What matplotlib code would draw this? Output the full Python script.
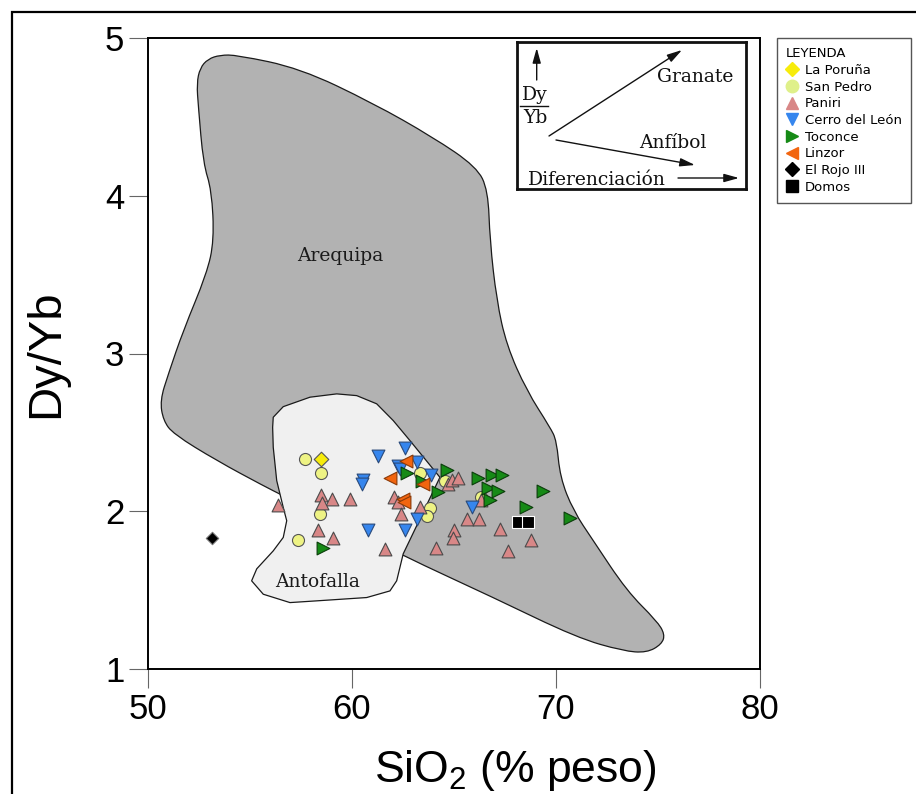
import matplotlib
matplotlib.use('Agg')
import matplotlib.pyplot as plt
from matplotlib.patches import Polygon, Rectangle, PathPatch
from matplotlib.path import Path
from matplotlib.lines import Line2D

plt.rcParams['font.family'] = ['Liberation Sans', 'DejaVu Sans']
plt.rcParams['mathtext.fontset'] = 'custom'
plt.rcParams['mathtext.rm'] = 'Liberation Sans'
plt.rcParams['mathtext.it'] = 'Liberation Sans:italic'

# ---------------- data ----------------
areq_x = [52.39, 52.55, 52.94, 53.53, 54.35, 57.45, 61.03, 63.97, 66.11, 66.67,
          66.76, 67.09, 67.58, 68.56, 69.71, 70.03, 70.20, 70.85, 71.83, 73.47,
          74.94, 75.34, 75.18, 74.45, 73.30, 71.01, 66.93, 62.51, 56.63, 55.65,
          53.37, 51.24, 50.75, 50.59, 51.00, 51.73, 52.88, 53.24, 53.12, 52.71, 52.47]
areq_y = [4.712, 4.810, 4.867, 4.892, 4.892, 4.808, 4.587, 4.371, 4.183, 4.035,
          3.717, 3.337, 3.051, 2.765, 2.532, 2.448, 2.215, 2.003, 1.813, 1.495,
          1.305, 1.220, 1.157, 1.103, 1.114, 1.199, 1.453, 1.717, 2.098, 2.162,
          2.321, 2.490, 2.575, 2.702, 2.871, 3.146, 3.506, 3.717, 4.035, 4.204, 4.564]

anto_x = [56.11, 56.14, 56.63, 57.94, 59.25, 60.23, 61.21, 62.02, 62.84, 64.31,
          62.51, 62.19, 61.86, 60.72, 58.27, 56.96, 55.65, 55.08, 55.33, 56.14,
          56.63, 56.80, 56.63, 56.31, 56.14]
anto_y = [2.532, 2.596, 2.663, 2.723, 2.744, 2.733, 2.681, 2.575, 2.448, 2.215,
          1.730, 1.559, 1.495, 1.453, 1.432, 1.421, 1.474, 1.559, 1.635, 1.749,
          1.834, 1.940, 2.024, 2.194, 2.405]

poruna_x = [58.48]
poruna_y = [2.33]

sanpedro_x = [57.70, 58.48, 58.43, 57.37, 63.33, 63.82, 63.69, 64.56, 66.31]
sanpedro_y = [2.33, 2.24, 1.98, 1.82, 2.24, 2.02, 1.97, 2.19, 2.09]

paniri_x = [56.39, 58.47, 59.00, 58.51, 59.90, 58.35, 59.08, 61.62, 62.06, 62.27,
            62.40, 63.33, 64.72, 64.89, 65.18, 66.31, 65.62, 66.24, 65.00, 64.93,
            64.10, 67.25, 68.76, 67.66]
paniri_y = [2.04, 2.10, 2.08, 2.05, 2.08, 1.88, 1.83, 1.76, 2.09, 2.06,
            1.98, 2.03, 2.17, 2.20, 2.21, 2.07, 1.95, 1.95, 1.88, 1.83,
            1.77, 1.89, 1.82, 1.75]

leon_x = [61.29, 62.60, 60.52, 60.47, 62.27, 62.35, 63.17, 63.87, 60.77, 62.60, 63.17, 65.86]
leon_y = [2.35, 2.40, 2.20, 2.17, 2.29, 2.27, 2.31, 2.23, 1.88, 1.88, 1.95, 2.03]

toconce_x = [58.59, 62.68, 63.42, 64.64, 64.23, 66.19, 66.84, 67.33, 66.68, 67.17,
             66.76, 69.38, 68.53, 70.69]
toconce_y = [1.77, 2.24, 2.19, 2.26, 2.12, 2.21, 2.23, 2.23, 2.15, 2.13,
             2.07, 2.13, 2.03, 1.96]

linzor_x = [61.86, 62.65, 63.47, 62.52, 62.55]
linzor_y = [2.21, 2.32, 2.17, 2.08, 2.06]

rojo_x = [53.12]
rojo_y = [1.83]

domos_x = [68.15, 68.64]
domos_y = [1.935, 1.93]

x_ticks = [50, 60, 70, 80]
y_ticks = [1, 2, 3, 4, 5]


def smooth_closed_path(xs, ys):
    """Closed outline drawn with quadratic Bezier segments (vertices act as control points)."""
    pts = list(zip(xs, ys))
    n = len(pts)
    mids = [((pts[i][0] + pts[(i + 1) % n][0]) / 2, (pts[i][1] + pts[(i + 1) % n][1]) / 2)
            for i in range(n)]
    verts = [mids[-1]]
    codes = [Path.MOVETO]
    for i in range(n):
        verts += [pts[i], mids[i]]
        codes += [Path.CURVE3, Path.CURVE3]
    verts.append(mids[-1])
    codes.append(Path.CLOSEPOLY)
    return Path(verts, codes)


# ---------------- figure ----------------
W, H = 916, 794
fig = plt.figure(figsize=(W / 100, H / 100), dpi=100)

# outer frame
fig.patches.append(Rectangle((12 / W, -0.1), 1.2, 1 - 12 / H + 0.1,
                             transform=fig.transFigure, fill=False,
                             ec='black', lw=1.6, clip_on=False))

ax = fig.add_axes([148 / W, 1 - 669 / H, 612 / W, 631 / H])
ax.set_xlim(50, 80)
ax.set_ylim(1, 5)

ax.add_patch(PathPatch(smooth_closed_path(areq_x, areq_y), fc='#b2b2b2',
                       ec='#1a1a1a', lw=0.9, zorder=1))
ax.add_patch(Polygon(list(zip(anto_x, anto_y)), closed=True, fc='#f0f0f0',
                     ec='#1a1a1a', lw=0.9, zorder=2, joinstyle='round'))

ax.text(59.41, 3.62, 'Arequipa', family='DejaVu Serif', fontsize=13.5,
        ha='center', va='center', color='#1a1a1a', zorder=3)
ax.text(58.33, 1.55, 'Antofalla', family='DejaVu Serif', fontsize=13.5,
        ha='center', va='center', color='#1a1a1a', zorder=3)

ax.scatter(sanpedro_x, sanpedro_y, marker='o', s=75, fc='#eef384', ec='#555555', lw=0.8, zorder=4)
ax.scatter(poruna_x, poruna_y, marker='D', s=55, fc='#f7ec0c', ec='#555555', lw=0.8, zorder=4)
ax.scatter(paniri_x, paniri_y, marker='^', s=85, fc='#d88787', ec='#4a4a4a', lw=0.8, zorder=5)
ax.scatter(leon_x, leon_y, marker='v', s=85, fc='#3686ee', ec='#2a4a7a', lw=0.8, zorder=6)
ax.scatter(toconce_x, toconce_y, marker='>', s=85, fc='#168a16', ec='#0b3d0b', lw=0.8, zorder=7)
ax.scatter(linzor_x, linzor_y, marker='<', s=85, fc='#f2650f', ec='#8a3a08', lw=0.8, zorder=8)
ax.scatter(rojo_x, rojo_y, marker='D', s=40, fc='black', ec='#777777', lw=0.8, zorder=8)
ax.scatter(domos_x, domos_y, marker='s', s=75, fc='black', ec='white', lw=0.8, zorder=8)

ax.set_xticks(x_ticks)
ax.set_yticks(y_ticks)
ax.tick_params(direction='out', length=14, width=0.8, color='#666666',
               labelsize=25, pad=3)
for sp in ax.spines.values():
    sp.set_linewidth(1.4)
    sp.set_color('black')

ax.set_xlabel('SiO$_2$ (% peso)', fontsize=32)
ax.xaxis.set_label_coords(0.60, -0.125)
ax.set_ylabel('Dy/Yb', fontsize=34)
ax.yaxis.set_label_coords(-0.13, 0.5)

# ---------------- inset scheme ----------------
axi = fig.add_axes([517 / W, 1 - 189 / H, 229 / W, 147 / H])
axi.set_xlim(0, 229)
axi.set_ylim(147, 0)
axi.set_xticks([])
axi.set_yticks([])
for sp in axi.spines.values():
    sp.set_linewidth(2.0)
    sp.set_color('#111111')
ap = dict(arrowstyle='-|>,head_length=0.9,head_width=0.25', lw=1.0,
          color='#111111', shrinkA=0, shrinkB=0)
axi.annotate('', xy=(19.7, 6), xytext=(19.7, 38), arrowprops=ap)
axi.annotate('', xy=(165, 8), xytext=(32, 94), arrowprops=ap)
axi.annotate('', xy=(178, 123), xytext=(39, 98), arrowprops=ap)
axi.annotate('', xy=(222, 136), xytext=(161, 136), arrowprops=ap)
sf = dict(family='DejaVu Serif', fontsize=13.5, color='#111111')
axi.text(18, 53, 'Dy', ha='center', va='center', **sf)
axi.plot([3, 31], [64, 64], color='#111111', lw=1.0)
axi.text(18, 76, 'Yb', ha='center', va='center', **sf)
axi.text(178, 35, 'Granate', ha='center', va='center', **sf)
axi.text(156, 101, 'Anfíbol', ha='center', va='center', **sf)
axi.text(80, 138, 'Diferenciación', ha='center', va='center', **sf)

# ---------------- legend ----------------
lh = [
    Line2D([], [], ls='none', marker='D', ms=7.5, mfc='#f7ec0c', mec='#f7ec0c', label='La Poruña'),
    Line2D([], [], ls='none', marker='o', ms=9, mfc='#dff08a', mec='#dff08a', label='San Pedro'),
    Line2D([], [], ls='none', marker='^', ms=9, mfc='#d88787', mec='#d88787', label='Paniri'),
    Line2D([], [], ls='none', marker='v', ms=9, mfc='#3686ee', mec='#3686ee', label='Cerro del León'),
    Line2D([], [], ls='none', marker='>', ms=9, mfc='#168a16', mec='#168a16', label='Toconce'),
    Line2D([], [], ls='none', marker='<', ms=9, mfc='#f2650f', mec='#f2650f', label='Linzor'),
    Line2D([], [], ls='none', marker='D', ms=7.5, mfc='black', mec='black', label='El Rojo III'),
    Line2D([], [], ls='none', marker='s', ms=8, mfc='black', mec='black', label='Domos'),
]
leg = fig.legend(handles=lh, title='LEYENDA', loc='upper left',
                 bbox_to_anchor=(777 / W, 1 - 38 / H), borderaxespad=0,
                 prop={'family': 'DejaVu Sans', 'size': 9.5},
                 title_fontproperties={'family': 'DejaVu Sans', 'size': 9.5},
                 alignment='left', fancybox=False, framealpha=1,
                 edgecolor='#555555', handlelength=0.8, handletextpad=0.6,
                 labelspacing=0.28, borderpad=0.7)
leg.get_frame().set_linewidth(1.0)

fig.savefig('out.png', dpi=100)
